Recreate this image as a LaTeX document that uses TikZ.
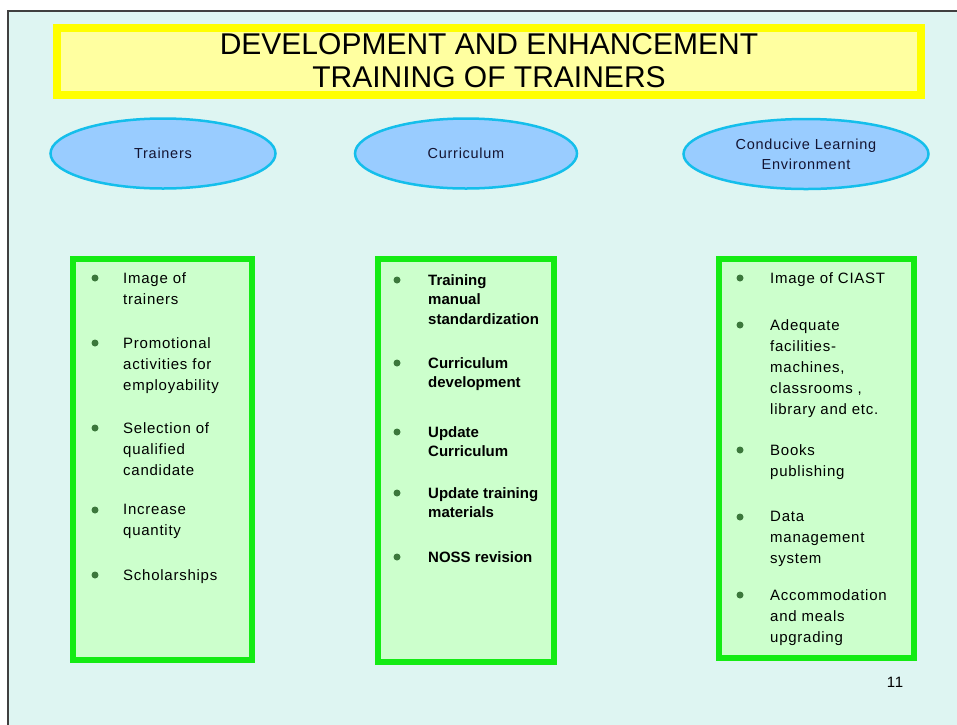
\documentclass[tikz,border=0pt]{standalone}
\usepackage{fontspec}
\setmainfont{Liberation Sans}
\newfontfamily\slidefont[LetterSpace=5]{Liberation Sans}
\usetikzlibrary{shapes.geometric}
\definecolor{slidebg}{RGB}{222,245,242}
\definecolor{titlefill}{RGB}{255,255,160}
\definecolor{titleline}{RGB}{255,255,0}
\definecolor{ovalfill}{RGB}{153,204,255}
\definecolor{ovalline}{RGB}{20,190,235}
\definecolor{boxfill}{RGB}{204,255,204}
\definecolor{boxline}{RGB}{20,235,20}
\definecolor{bulgreen}{RGB}{60,120,60}
\definecolor{ovaltext}{RGB}{20,20,50}

\begin{document}
\begin{tikzpicture}[x=1pt,y=-1pt]
    \tikzset{titlebox/.style={draw=titleline, fill=titlefill, line width=8pt, align=center,
        font=\fontsize{30}{33}\selectfont}}
    \tikzset{oval/.style={ellipse, draw=ovalline, fill=ovalfill, line width=2.5pt, inner sep=0pt,
        align=center, text=ovaltext, font=\slidefont\fontsize{14.5}{20}\selectfont}}
    \tikzset{listbox/.style={draw=boxline, fill=boxfill, line width=6pt}}
    \tikzset{itm/.style={anchor=north west, align=left, inner sep=0pt,
        font=\slidefont\fontsize{15}{21}\selectfont}}
    \tikzset{bolditm/.style={itm, font=\bfseries\fontsize{15}{19.5}\selectfont}}
    \useasboundingbox (0,0) rectangle (957,724);
    \fill[white] (0,0) rectangle (957,724);
    \draw[fill=slidebg, draw=black!75, line width=1.2pt] (8,11) rectangle (980,750);

    \node[titlebox, minimum width=864pt, minimum height=67pt] (title) at (489,61)
        {DEVELOPMENT AND ENHANCEMENT\\TRAINING OF TRAINERS};

    \node[oval, minimum width=225pt, minimum height=70pt] (trainers) at (163,153.5) {Trainers};
    \node[oval, minimum width=222pt, minimum height=70pt] (curriculum) at (466,153.5) {Curriculum};
    \node[oval, minimum width=245pt, minimum height=70pt] (environment) at (806,154)
        {Conducive Learning\\Environment};

    \node[listbox, minimum width=179pt, minimum height=401pt] (trainbox) at (162.5,459.5) {};
    \node[listbox, minimum width=176pt, minimum height=403pt] (currbox) at (466,460.5) {};
    \node[listbox, minimum width=195pt, minimum height=399pt] (envbox) at (816.5,458.5) {};

    \node[itm] (t1) at (123,272) {Image of\\trainers};
    \node[itm] (t2) at (123,337) {Promotional\\activities for\\employability};
    \node[itm] (t3) at (123,422) {Selection of\\qualified\\candidate};
    \node[itm] (t4) at (123,504) {Increase\\quantity};
    \node[itm] (t5) at (123,569) {Scholarships};

    \node[bolditm] (c1) at (428,274) {Training\\manual\\standardization};
    \node[bolditm] (c2) at (428,357) {Curriculum\\development};
    \node[bolditm] (c3) at (428,426) {Update\\Curriculum};
    \node[bolditm] (c4) at (428,487) {Update training\\materials};
    \node[bolditm] (c5) at (428,551) {NOSS revision};

    \node[itm] (e1) at (770,272) {Image of CIAST};
    \node[itm] (e2) at (770,319) {Adequate\\facilities-\\machines,\\classrooms ,\\library and etc.};
    \node[itm] (e3) at (770,444) {Books\\publishing};
    \node[itm] (e4) at (770,511) {Data\\management\\system};
    \node[itm] (e5) at (770,589) {Accommodation\\and meals\\upgrading};

    \foreach \y in {278,343,428,510,575}
        \fill[bulgreen] (95,\y) circle (3.5);
    \foreach \y in {280,363,432,493,557}
        \fill[bulgreen] (397,\y) circle (3.5);
    \foreach \y in {278,325,450,517,595}
        \fill[bulgreen] (740,\y) circle (3.5);

    \node[font=\slidefont\fontsize{15}{18}\selectfont] (pagenum) at (895,682) {11};
\end{tikzpicture}
\end{document}
